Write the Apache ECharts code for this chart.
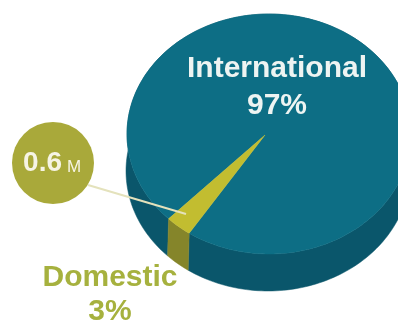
<!DOCTYPE html>
<html>
<head>
<meta charset="utf-8">
<script src="https://cdn.jsdelivr.net/npm/echarts@6/dist/echarts.min.js"></script>
<style>
  html, body { margin: 0; padding: 0; background: #ffffff; }
  #chart { width: 398px; height: 329px; }
</style>
</head>
<body>
<div id="chart"></div>
<script>
// Passenger split (share of total, %)
const categories = ['International', 'Domestic'];
const shares = [97, 3];
// Domestic volume called out in the bubble
const domesticVolume = 0.6;
const volumeUnit = 'M';

// Colours per slice: top face, side wall, label
const topColors = ['#0d6e85', '#c2bd30'];
const sideColors = ['#0a566b', '#85852a'];
const labelColors = ['#eef4f2', '#a6b13e'];

// Tilted-disc projection of the pie
const geo = {
  cx: 269, cy: 134,     // centre of the projected top face
  a: 142, b: 120,       // semi-axes of the projected top face
  apex: [265, 135],     // where the slice edges meet
  depth: [-1, 37],      // extrusion of the side wall
  start: 135            // parametric angle (clockwise) where the first slice begins
};

const total = shares.reduce((s, v) => s + v, 0);

function rimPoint(deg, dx, dy) {
  const t = deg * Math.PI / 180;
  return [geo.cx + geo.a * Math.cos(t) + (dx || 0), geo.cy + geo.b * Math.sin(t) + (dy || 0)];
}

function sliceRange(i) {
  let acc = 0;
  for (let k = 0; k < i; k++) acc += shares[k];
  const t1 = geo.start + acc / total * 360;
  const t2 = t1 + shares[i] / total * 360;
  return [t1, t2];
}

function arc(t1, t2, dx, dy) {
  const pts = [];
  const n = Math.max(4, Math.ceil((t2 - t1) / 1.5));
  for (let k = 0; k <= n; k++) pts.push(rimPoint(t1 + (t2 - t1) * k / n, dx, dy));
  return pts;
}

// Side walls of each slice (drawn beneath the top faces)
function renderSide(params, api) {
  const i = params.dataIndex;
  const [t1, t2] = sliceRange(i);
  const top = arc(t1, t2, 0, 0);
  const bottom = arc(t1, t2, geo.depth[0], geo.depth[1]).reverse();
  return {
    type: 'polygon',
    shape: { points: top.concat(bottom) },
    style: { fill: sideColors[i], stroke: sideColors[i], lineWidth: 0.5 }
  };
}

// Top faces of each slice
function renderTop(params, api) {
  const i = params.dataIndex;
  const [t1, t2] = sliceRange(i);
  const pts = [geo.apex.slice()].concat(arc(t1, t2, 0, 0));
  return {
    type: 'polygon',
    shape: { points: pts },
    style: { fill: topColors[i], stroke: topColors[i], lineWidth: 0.5 }
  };
}

const labelFont = 'Liberation Sans, Arial, Helvetica, sans-serif';
const labelPlaces = [
  { x: 277, y: 87, lineHeight: 37 },
  { x: 110, y: 295, lineHeight: 34 }
];

const sliceData = shares.map((v, i) => ({ name: categories[i], value: v }));

const chart = echarts.init(document.getElementById('chart'), null, { renderer: 'canvas' });
chart.setOption({
  backgroundColor: '#ffffff',
  animation: false,
  series: [
    {
      type: 'custom',
      coordinateSystem: 'none',
      renderItem: renderSide,
      data: sliceData,
      z: 1,
      silent: true
    },
    {
      type: 'custom',
      coordinateSystem: 'none',
      renderItem: renderTop,
      data: sliceData,
      z: 2,
      silent: true
    }
  ],
  graphic: [
    // slice labels
    ...categories.map((name, i) => ({
      type: 'text',
      z: 10,
      style: {
        text: name + '\n' + shares[i] + '%',
        x: labelPlaces[i].x,
        y: labelPlaces[i].y,
        align: 'center',
        verticalAlign: 'middle',
        lineHeight: labelPlaces[i].lineHeight,
        font: 'bold 30px ' + labelFont,
        fill: labelColors[i]
      }
    })),
    // leader line from the volume bubble to the domestic slice
    {
      type: 'line',
      z: 9,
      shape: { x1: 88, y1: 185, x2: 186, y2: 214 },
      style: { stroke: '#e4e2bc', lineWidth: 2 }
    },
    {
      type: 'circle',
      z: 10,
      shape: { cx: 53, cy: 163, r: 41 },
      style: { fill: '#a9a93a' }
    },
    {
      type: 'text',
      z: 11,
      style: {
        text: String(domesticVolume),
        x: 62, y: 163,
        align: 'right', verticalAlign: 'middle',
        font: 'bold 28px ' + labelFont,
        fill: '#f6f4e4'
      }
    },
    {
      type: 'text',
      z: 11,
      style: {
        text: volumeUnit,
        x: 67, y: 167,
        align: 'left', verticalAlign: 'middle',
        font: '17px ' + labelFont,
        fill: '#f6f4e4'
      }
    }
  ]
});
</script>
</body>
</html>
